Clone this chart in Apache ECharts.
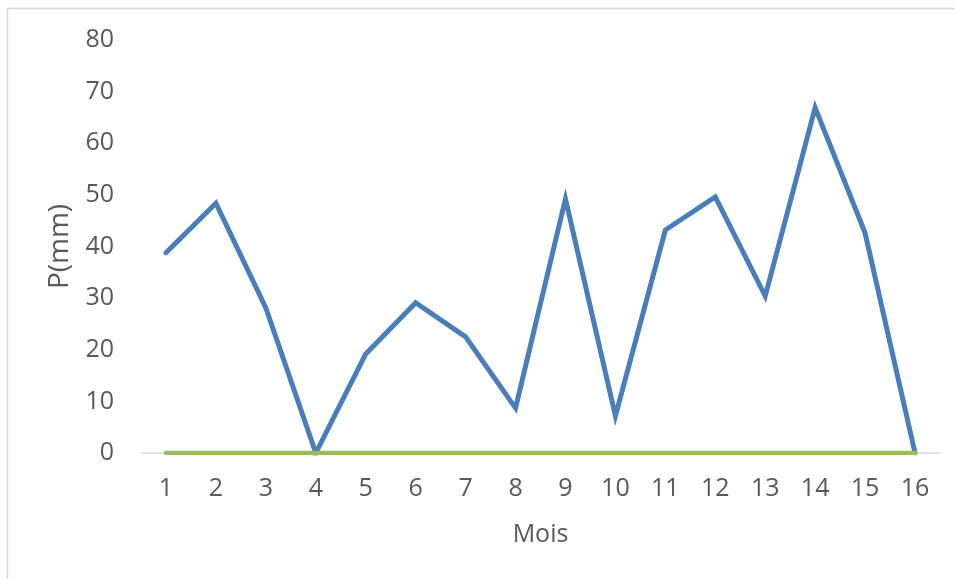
<!DOCTYPE html>
<html>
<head>
<meta charset="utf-8">
<script src="https://cdn.jsdelivr.net/npm/echarts@6/dist/echarts.min.js"></script>
<style>html,body{margin:0;padding:0;background:#fff}#c{width:955px;height:579px}</style>
</head>
<body>
<div id="c"></div>
<script>
var months = ['1','2','3','4','5','6','7','8','9','10','11','12','13','14','15','16'];
var precip = [38.8, 48.4, 28.1, 0, 19.2, 29.1, 22.5, 8.7, 49.2, 7.2, 43.2, 49.6, 30.4, 66.9, 42.6, 0];
var baseline = [0,0,0,0,0,0,0,0,0,0,0,0,0,0,0,0];
var yTicks = {min: 0, max: 80, interval: 10};

var chart = echarts.init(document.getElementById('c'), null, {renderer: 'canvas'});
var font = '"Open Sans", "Liberation Sans", sans-serif';
chart.setOption({
  animation: false,
  backgroundColor: '#fff',
  graphic: [{
    type: 'rect', silent: true, z: -10,
    shape: {x: 7.5, y: 8.5, width: 1000, height: 1000},
    style: {fill: 'none', stroke: '#d9d9d9', lineWidth: 1.5}
  }],
  grid: {left: 141, right: 15, top: 40, bottom: 126, containLabel: false},
  xAxis: {
    type: 'category', data: months, boundaryGap: true,
    name: 'Mois', nameLocation: 'middle', nameGap: 69,
    nameTextStyle: {color: '#595959', fontSize: 25, fontFamily: font},
    axisLine: {show: true, lineStyle: {color: '#d9d9d9', width: 1.5}},
    axisTick: {show: false},
    axisLabel: {color: '#595959', fontSize: 25, fontFamily: font, margin: 23},
    splitLine: {show: false}
  },
  yAxis: {
    type: 'value', min: yTicks.min, max: yTicks.max, interval: yTicks.interval,
    name: 'P(mm)', nameLocation: 'middle', nameGap: 66, nameRotate: 90,
    nameTextStyle: {color: '#595959', fontSize: 28, fontFamily: font},
    axisLine: {show: false}, axisTick: {show: false},
    axisLabel: {color: '#595959', fontSize: 25, fontFamily: font, margin: 27},
    splitLine: {show: false}
  },
  series: [
    {type: 'line', data: precip, symbol: 'none', z: 2,
     lineStyle: {color: '#4a7ebb', width: 5, cap: 'round', join: 'miter'}},
    {type: 'line', data: baseline, symbol: 'none', z: 3,
     lineStyle: {color: '#9bbb59', width: 4.5, cap: 'round'}}
  ]
});
</script>
</body>
</html>
